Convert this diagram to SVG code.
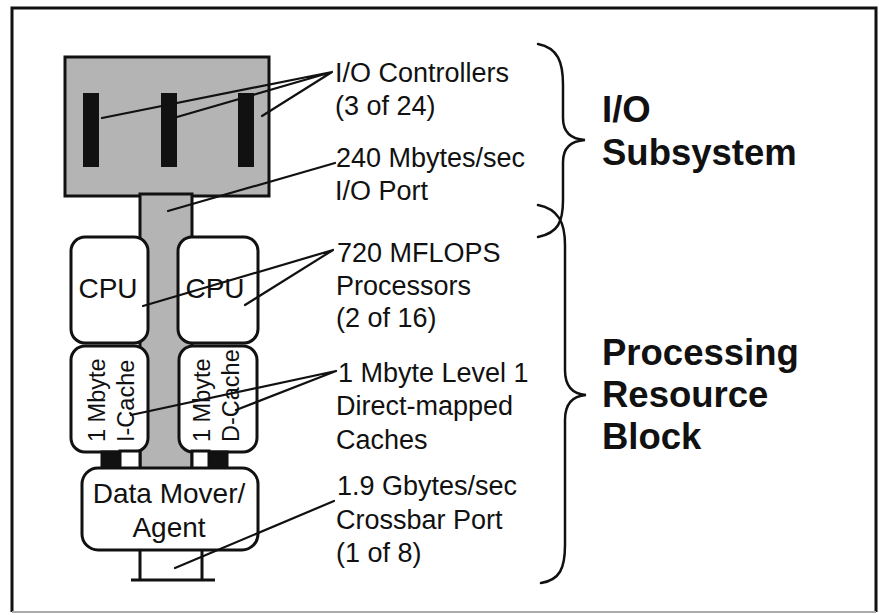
<svg xmlns="http://www.w3.org/2000/svg" width="879" height="615" viewBox="0 0 879 615">
<style>
.t{font-family:"Liberation Sans",Arial,Helvetica,sans-serif;font-size:27px;fill:#111}
.n{font-family:"Liberation Sans",Arial,Helvetica,sans-serif;font-size:28px;fill:#111}
.b{font-family:"Liberation Sans",Arial,Helvetica,sans-serif;font-size:36.5px;font-weight:bold;fill:#111}
.c{font-family:"Liberation Sans",Arial,Helvetica,sans-serif;font-size:23.5px;fill:#111}
.box{fill:#fff;stroke:#111;stroke-width:3}
.gray{fill:#b4b4b4;stroke:#111;stroke-width:3}
.lead{stroke:#111;stroke-width:2.2;fill:none;stroke-linecap:round}
.brace{stroke:#111;stroke-width:2.5;fill:none;stroke-linecap:round}
</style>
<rect width="879" height="615" fill="#fff"/>
<path d="M12,612 L12,8 L876,8 L876,612" fill="none" stroke="#111" stroke-width="3"/>
<path d="M12,612 L876,612" stroke="#aaa" stroke-width="2"/>

<g id="io-subsystem">
<rect class="gray" x="65" y="57" width="204" height="139"/>
<rect x="83" y="93" width="16" height="74" fill="#111"/>
<rect x="161" y="93" width="16" height="74" fill="#111"/>
<rect x="238" y="93" width="16" height="74" fill="#111"/>
</g>
<g id="io-port">
<rect class="gray" x="140" y="194" width="52" height="276"/>
</g>
<g id="cpu-left">
<rect class="box" x="71" y="237" width="77" height="106" rx="14"/>
<text class="n" x="108" y="298" text-anchor="middle">CPU</text>
</g>
<g id="cpu-right">
<rect class="box" x="178" y="237" width="80" height="106" rx="14"/>
<text class="n" x="215" y="298" text-anchor="middle">CPU</text>
</g>
<g id="icache">
<rect class="box" x="71" y="346" width="77" height="106" rx="14"/>
<text class="c" transform="translate(105,442) rotate(-90)">1 Mbyte</text>
<text class="c" transform="translate(134,442) rotate(-90)">I-Cache</text>
</g>
<g id="dcache">
<rect class="box" x="179" y="346" width="78" height="106" rx="14"/>
<text class="c" transform="translate(210,442) rotate(-90)">1 Mbyte</text>
<text class="c" transform="translate(239,442) rotate(-90)">D-Cache</text>
</g>
<g id="cache-links">
<rect x="101" y="451" width="19" height="18" fill="#111" stroke="#111" stroke-width="1"/>
<rect class="box" x="120" y="451" width="20" height="18"/>
<rect class="box" x="192" y="451" width="17" height="18"/>
<rect x="209" y="451" width="19" height="18" fill="#111" stroke="#111" stroke-width="1"/>
</g>
<g id="data-mover">
<rect class="box" x="82" y="468" width="176" height="82" rx="16"/>
<text class="n" x="169" y="503" text-anchor="middle">Data Mover/</text>
<text class="n" x="169" y="537" text-anchor="middle">Agent</text>
</g>
<g id="crossbar-port">
<path d="M140,550 L140,580 M202,550 L202,580 M131,580 L215,580" stroke="#111" stroke-width="3" fill="none"/>
</g>

<g id="connectors">
<path class="lead" d="M102,118 L332,72 M177,117 L332,72 M262,116 L332,72"/>
<path class="lead" d="M168,211 L335,163"/>
<path class="lead" d="M143,306 L333,250 M245,305 L333,250"/>
<path class="lead" d="M131,415 L336,371 M236,410 L336,371"/>
<path class="lead" d="M175,568 L334,501"/>
<path class="brace" d="M538,44 C558,48 563,62 563,85 L563,118 C563,132 570,139 585,140 C570,141 563,148 563,162 L563,200 C563,222 558,233 538,237"/>
<path class="brace" d="M538,205 C558,209 565,222 565,245 L565,370 C565,386 572,394 586,395 C572,396 565,404 565,420 L565,545 C565,568 560,580 541,583"/>
</g>

<g id="labels">
<text class="t" x="335" y="82">I/O Controllers</text>
<text class="t" x="335" y="115">(3 of 24)</text>
<text class="t" x="336" y="167">240 Mbytes/sec</text>
<text class="t" x="335" y="200">I/O Port</text>
<text class="t" x="337" y="262">720 MFLOPS</text>
<text class="t" x="336" y="295">Processors</text>
<text class="t" x="336" y="327">(2 of 16)</text>
<text class="t" x="338" y="382">1 Mbyte Level 1</text>
<text class="t" x="336" y="415">Direct-mapped</text>
<text class="t" x="336" y="449">Caches</text>
<text class="t" x="337" y="495">1.9 Gbytes/sec</text>
<text class="t" x="336" y="529">Crossbar Port</text>
<text class="t" x="336" y="562">(1 of 8)</text>
</g>
<g id="group-labels">
<text class="b" x="602" y="122">I/O</text>
<text class="b" x="602" y="165">Subsystem</text>
<text class="b" x="602" y="365">Processing</text>
<text class="b" x="602" y="407">Resource</text>
<text class="b" x="602" y="449">Block</text>
</g>
</svg>
